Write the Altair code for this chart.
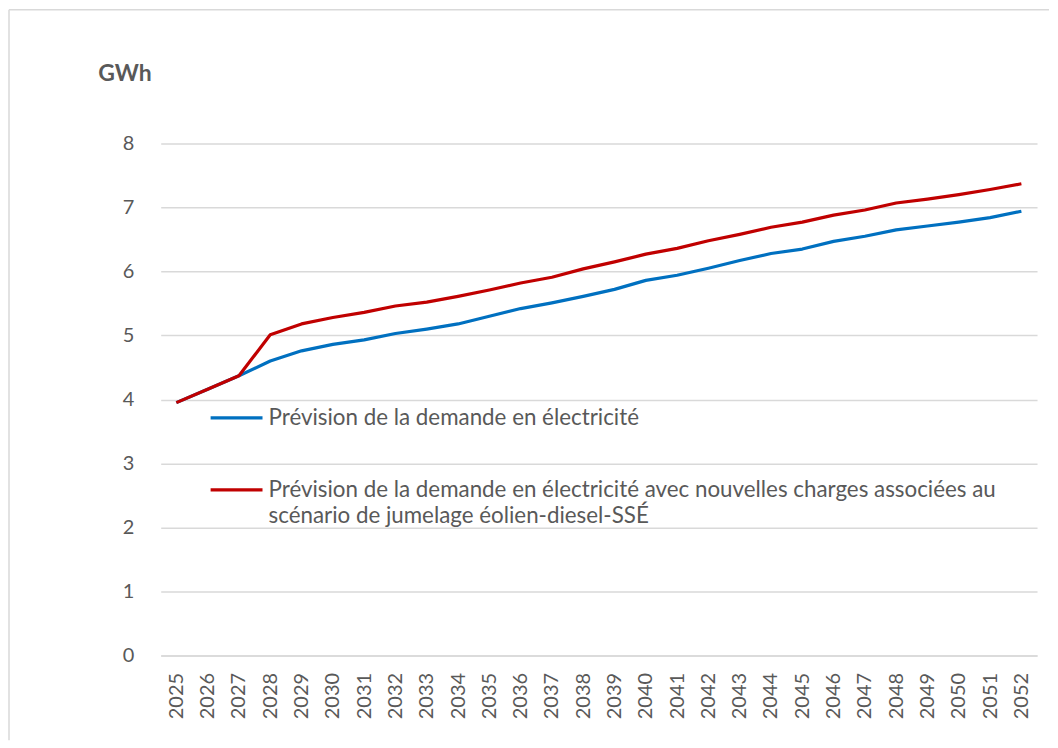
import altair as alt
import pandas as pd

years = [str(y) for y in range(2025, 2053)]
base_demand = [3.95, 4.16, 4.37, 4.60, 4.76, 4.86, 4.93, 5.03, 5.10, 5.18, 5.30, 5.42, 5.51, 5.61,
               5.72, 5.86, 5.94, 6.05, 6.17, 6.28, 6.35, 6.47, 6.55, 6.65, 6.71, 6.77, 6.84, 6.94]
new_loads = [3.95, 4.16, 4.37, 5.01, 5.18, 5.28, 5.36, 5.46, 5.52, 5.61, 5.71, 5.82, 5.91, 6.04,
             6.15, 6.27, 6.36, 6.48, 6.58, 6.69, 6.77, 6.88, 6.96, 7.07, 7.13, 7.20, 7.28, 7.37]
series_names = ["Prévision de la demande en électricité",
                "Prévision de la demande en électricité avec nouvelles charges associées au scénario de jumelage éolien-diesel-SSÉ"]
series_colors = ["#0070C0", "#C00000"]
y_ticks = [0, 1, 2, 3, 4, 5, 6, 7, 8]

df = pd.DataFrame({
    "year": years * 2,
    "value": base_demand + new_loads,
    "series": [series_names[0]] * len(years) + [series_names[1]] * len(years),
})

FONT = "Lato"
GRAY = "#595959"
W, H = 878, 513

lines = alt.Chart(df).mark_line(strokeWidth=3.2, strokeJoin="round").encode(
    x=alt.X("year:O", sort=years, title=None,
            scale=alt.Scale(padding=0.5),
            axis=alt.Axis(labelAngle=-90, labelAlign="right", labelBaseline="middle",
                          labelPadding=17, ticks=False, domainColor="#d9d9d9", domainWidth=1.5,
                          labelFont=FONT, labelFontSize=20, labelColor=GRAY, grid=False)),
    y=alt.Y("value:Q", scale=alt.Scale(domain=[0, 8], nice=False),
            axis=alt.Axis(values=y_ticks, title="GWh", titleAngle=0, titleAlign="left",
                          titleBaseline="middle", titleX=-63, titleY=-70,
                          titleFont=FONT, titleFontSize=23, titleFontWeight="bold", titleColor=GRAY,
                          labelFont=FONT, labelFontSize=20, labelColor=GRAY,
                          ticks=False, tickSize=0, labelPadding=27, domain=False,
                          grid=True, gridColor="#d9d9d9", gridWidth=1.5)),
    color=alt.Color("series:N", scale=alt.Scale(domain=series_names, range=series_colors), legend=None),
)

leg = pd.DataFrame({
    "name": series_names,
    "line1": ["Prévision de la demande en électricité",
              "Prévision de la demande en électricité avec nouvelles charges associées au"],
    "line2": ["", "scénario de jumelage éolien-diesel-SSÉ"],
    "color": series_colors,
})

LEG_FS = 22.4
legend_layers = []
for i, row in leg.iterrows():
    yy = 275 + 72 * i
    one = pd.DataFrame([row])
    legend_layers.append(alt.Chart(one).mark_rule(strokeWidth=3.2).encode(
        x=alt.value(50), x2=alt.value(102), y=alt.value(yy),
        color=alt.Color("color:N", scale=None)))
    legend_layers.append(alt.Chart(one).mark_text(align="left", baseline="middle", font=FONT,
                                                  fontSize=LEG_FS, color=GRAY).encode(
        x=alt.value(108), y=alt.value(yy), text="line1:N"))
    if row["line2"]:
        legend_layers.append(alt.Chart(one).mark_text(align="left", baseline="middle", font=FONT,
                                                      fontSize=LEG_FS, color=GRAY).encode(
            x=alt.value(108), y=alt.value(yy + 26), text="line2:N"))

border_df = pd.DataFrame({"k": [0]})
border_left = alt.Chart(border_df).mark_rule(color="#d9d9d9", strokeWidth=1.5, clip=False).encode(
    x=alt.value(-152), y=alt.value(-134), y2=alt.value(598))
border_top = alt.Chart(border_df).mark_rule(color="#d9d9d9", strokeWidth=1.5, clip=False).encode(
    x=alt.value(-152), x2=alt.value(890), y=alt.value(-134))

chart = alt.layer(lines, *legend_layers, border_left, border_top).properties(
    width=W, height=H, padding=0, background="white"
).configure_view(stroke=None)

chart.save("out.html", embed_options={"renderer": "svg", "actions": False})
